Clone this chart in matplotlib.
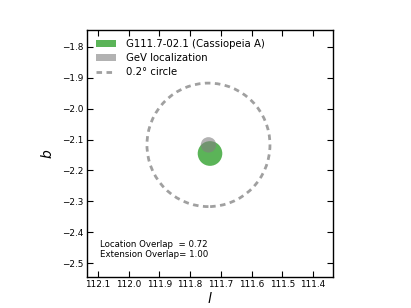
import matplotlib
matplotlib.use("Agg")
import matplotlib.pyplot as plt
from matplotlib.patches import Circle, Patch
from matplotlib.lines import Line2D

# Data
snr_name = "G111.7-02.1 (Cassiopeia A)"
snr_l, snr_b, snr_r = 111.735, -2.145, 0.04
gev_l, gev_b, gev_r = 111.74, -2.117, 0.025
circle_r = 0.2
loc_overlap = 0.72
ext_overlap = 1.00
xticks = [112.1, 112.0, 111.9, 111.8, 111.7, 111.6, 111.5, 111.4]
yticks = [-1.8, -1.9, -2.0, -2.1, -2.2, -2.3, -2.4, -2.5]
half_width = 0.4

fig = plt.figure(figsize=(4.11, 3.08), dpi=100)
ax = fig.add_axes([87/411, 1-277/308, 246/411, 247/308])

green = '#52b04f'
ax.add_patch(Circle((snr_l, snr_b), snr_r, facecolor=green, edgecolor='none', alpha=0.95, zorder=2))
ax.add_patch(Circle((gev_l, gev_b), gev_r, facecolor='gray', edgecolor='none', alpha=0.6, zorder=3))
ax.add_patch(Circle((gev_l, gev_b), circle_r, facecolor='none', edgecolor='#a0a0a0',
                    linewidth=2, linestyle=(0, (2, 1.6)), zorder=4))

ax.set_xlim(snr_l + half_width, snr_l - half_width)
ax.set_ylim(snr_b - half_width, snr_b + half_width)
ax.set_xticks(xticks)
ax.set_yticks(yticks)
ax.set_xticklabels([f"{v:.1f}" for v in xticks])
ax.set_yticklabels([f"\u2212{abs(v):.1f}" for v in yticks])
ax.tick_params(direction='in', top=True, right=True, length=4, width=0.8,
               labelsize=6.4, pad=2.5)
for s in ax.spines.values():
    s.set_linewidth(1.0)

ax.set_xlabel('$l$', fontsize=10, labelpad=1)
ax.set_ylabel('$b$', fontsize=10, labelpad=5)

handles = [Patch(facecolor=green, edgecolor='none', alpha=0.95),
           Patch(facecolor='gray', edgecolor='none', alpha=0.6),
           Line2D([], [], color='#a0a0a0', lw=2, linestyle=(0, (2, 1.6)))]
labels = [snr_name, 'GeV localization', '0.2\u00b0 circle']
ax.legend(handles, labels, loc='upper left', frameon=False, fontsize=7.3,
          handlelength=2.0, handleheight=0.7, handletextpad=0.9,
          borderaxespad=0.0, borderpad=0.9, labelspacing=0.4)

ax.text(0.053, 0.111, f"Location Overlap  = {loc_overlap:.2f}\nExtension Overlap= {ext_overlap:.2f}",
        transform=ax.transAxes, fontsize=6.2, va='center', ha='left', linespacing=1.15)

fig.savefig('out.png', dpi=100)
